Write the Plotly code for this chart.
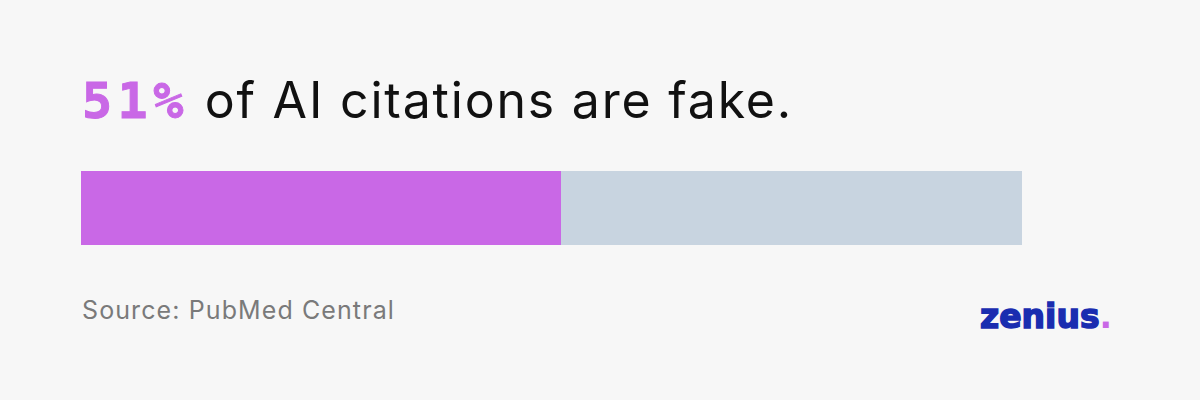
import plotly.graph_objects as go

categories = ["AI citations"]
fake_share = [51]
real_share = [49]
headline_value = "51%"
headline_text = " of AI citations are fake."
source_text = "Source: PubMed Central"
brand = "zenius"

W, H = 1200, 400
L, R, T, B = 81, 178, 171, 155
pw, ph = W - L - R, H - T - B

def px(x):
    return (x - L) / pw

def py(y):
    return (H - B - y) / ph

fig = go.Figure()
fig.add_trace(go.Bar(y=categories, x=fake_share, orientation="h",
                     marker=dict(color="#c968e6", line=dict(width=0)), width=1,
                     hoverinfo="skip"))
fig.add_trace(go.Bar(y=categories, x=real_share, orientation="h",
                     marker=dict(color="#c8d4e0", line=dict(width=0)), width=1,
                     hoverinfo="skip"))

fig.update_layout(
    width=W, height=H, barmode="stack", showlegend=False,
    margin=dict(l=L, r=R, t=T, b=B, pad=0),
    paper_bgcolor="#f7f7f7", plot_bgcolor="#f7f7f7",
    xaxis=dict(range=[0, 100], visible=False, fixedrange=True),
    yaxis=dict(range=[-0.5, 0.5], visible=False, fixedrange=True),
    bargap=0,
)

fig.add_annotation(
    x=px(80), y=py(100), xref="paper", yref="paper", xanchor="left", yanchor="middle",
    text=(f"<b><span style='font-family:\"DejaVu Sans Mono\";color:#c968e6;letter-spacing:5.5px;"
          f"stroke:#c968e6;stroke-width:1px'>{headline_value}</span></b>"
          f"<span style='color:#111111;letter-spacing:1.8px'>{headline_text}</span>"),
    showarrow=False, font=dict(family="Inter", size=50, color="#111111"), align="left",
)
fig.add_annotation(
    x=px(80), y=py(310), xref="paper", yref="paper", xanchor="left", yanchor="middle",
    text=f"<span style='letter-spacing:1.1px'>{source_text}</span>", showarrow=False,
    font=dict(family="Inter", size=25, color="#7a7a7a"),
)
fig.add_annotation(
    x=px(1114), y=py(316), xref="paper", yref="paper", xanchor="right", yanchor="middle",
    text=(f"<span style='color:#1a2db0;stroke:#1a2db0;stroke-width:1.5px'>{brand}</span>"
          f"<span style='color:#c968e6'>.</span>"),
    showarrow=False,
    font=dict(family="DejaVu Sans", size=33, color="#1a2db0", weight="bold"),
)

fig.write_html("out.html", config={"displayModeBar": False},
               post_script="document.body.style.margin='0';document.body.style.background='#f7f7f7';")
